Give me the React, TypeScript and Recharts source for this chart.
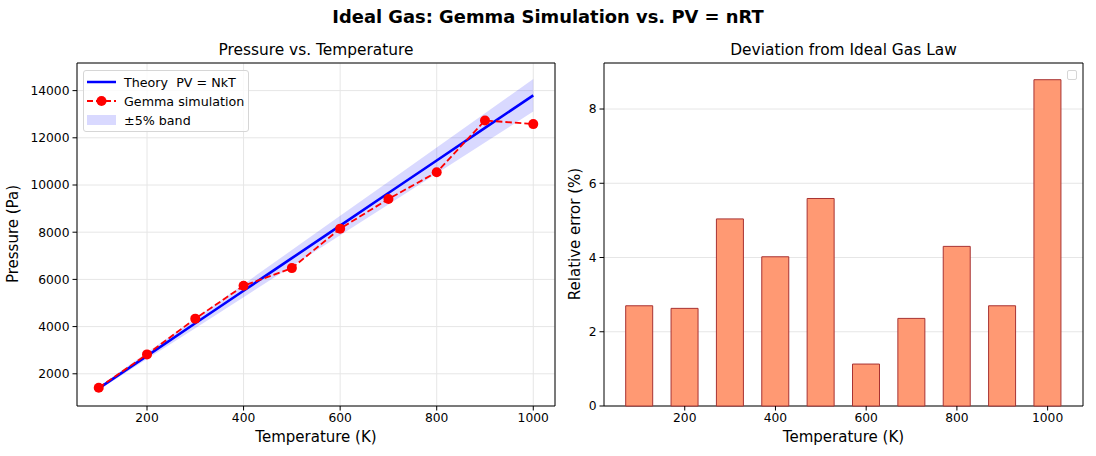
import { ComposedChart, BarChart, Bar, Line, Area, XAxis, YAxis, CartesianGrid, ReferenceArea } from "recharts";

const temps = [100, 200, 300, 400, 500, 600, 700, 800, 900, 1000];
const theoryP = [1380, 2760, 4140, 5520, 6900, 8280, 9660, 11040, 12420, 13800];
const gemmaP = [1410, 2822, 4337, 5727, 6478, 8150, 9408, 10542, 12736, 12580];
const relErr = [2.7, 2.63, 5.04, 4.02, 5.59, 1.13, 2.36, 4.3, 2.7, 8.79];

const xTicks = [200, 400, 600, 800, 1000];
const pTicks = [2000, 4000, 6000, 8000, 10000, 12000, 14000];
const errTicks = [0, 2, 4, 6, 8];

const FONT = "'DejaVu Sans', sans-serif";
const tickStyle = { fontSize: 12.3, fill: "#000", fontFamily: FONT };

const pressureData = temps.map((t, i) => ({
  T: t,
  theory: theoryP[i],
  gemma: gemmaP[i],
  band: [theoryP[i] * 0.95, theoryP[i] * 1.05],
}));

const errData = temps.map((t, i) => ({ T: t, err: relErr[i] }));

const text = (s: React.CSSProperties): React.CSSProperties => ({
  position: "absolute",
  fontFamily: FONT,
  color: "#000",
  whiteSpace: "pre",
  lineHeight: 1,
  ...s,
});

function LeftLegend() {
  const row = (top: number, icon: React.ReactNode, label: string) => (
    <div style={{ position: "absolute", left: 3, top, height: 16, display: "flex", alignItems: "center" }}>
      <svg width={30} height={16}>{icon}</svg>
      <span style={{ marginLeft: 7, fontSize: 12.7, fontFamily: FONT, whiteSpace: "pre" }}>{label}</span>
    </div>
  );
  return (
    <div
      style={{
        position: "absolute",
        left: 83,
        top: 70,
        width: 166,
        height: 62,
        boxSizing: "border-box",
        border: "1px solid #d6d6d6",
        borderRadius: 3,
        background: "rgba(255,255,255,0.8)",
      }}
    >
      {row(3, <line x1={0} y1={8} x2={29} y2={8} stroke="#0000ff" strokeWidth={2.5} />, "Theory  PV = NkT")}
      {row(22, <g><line x1={0} y1={8} x2={29} y2={8} stroke="red" strokeWidth={1.8} strokeDasharray="6 3" /><circle cx={14.5} cy={8} r={5} fill="red" /></g>, "Gemma simulation")}
      {row(41, <rect x={0} y={3} width={29} height={10} fill="#0000ff" fillOpacity={0.15} />, "±5% band")}
    </div>
  );
}

export default function App() {
  return (
    <div style={{ position: "absolute", left: 0, top: 0, width: 1096, height: 456, background: "#fff" }}>
      <div style={text({ left: 0, width: 1096, top: 8, textAlign: "center", fontSize: 17.9, fontWeight: "bold" })}>
        Ideal Gas: Gemma Simulation vs. PV = nRT
      </div>

      <div style={text({ left: 77, width: 478, top: 43, textAlign: "center", fontSize: 15.4 })}>Pressure vs. Temperature</div>
      <div style={text({ left: 604, width: 479, top: 43, textAlign: "center", fontSize: 15.4 })}>Deviation from Ideal Gas Law</div>

      <div style={text({ left: 77, width: 478, top: 430, textAlign: "center", fontSize: 15 })}>Temperature (K)</div>
      <div style={text({ left: 604, width: 479, top: 430, textAlign: "center", fontSize: 15 })}>Temperature (K)</div>

      <div style={text({ left: 13, top: 234, fontSize: 15, transform: "translate(-50%,-50%) rotate(-90deg)" })}>Pressure (Pa)</div>
      <div style={text({ left: 575, top: 234, fontSize: 15, transform: "translate(-50%,-50%) rotate(-90deg)" })}>Relative error (%)</div>

      <div style={{ position: "absolute", left: 0, top: 0 }}>
        <ComposedChart width={570} height={456} data={pressureData} margin={{ top: 63, right: 15, bottom: 0, left: 0 }}>
          <CartesianGrid stroke="#e6e6e6" strokeWidth={1} />
          <XAxis
            dataKey="T"
            type="number"
            domain={[55, 1045]}
            ticks={xTicks}
            height={50}
            axisLine={false}
            tickSize={4.5}
            tickMargin={3}
            tickLine={{ stroke: "#000" }}
            tick={tickStyle}
            interval={0}
          />
          <YAxis
            type="number"
            domain={[635, 15170]}
            ticks={pTicks}
            width={77}
            axisLine={false}
            tickSize={4.5}
            tickMargin={3}
            tickLine={{ stroke: "#000" }}
            tick={tickStyle}
            interval={0}
          />
          <Area dataKey="band" stroke="none" fill="#0000ff" fillOpacity={0.15} isAnimationActive={false} />
          <Line dataKey="theory" stroke="#0000ff" strokeWidth={2.6} dot={false} isAnimationActive={false} />
          <Line
            dataKey="gemma"
            stroke="red"
            strokeWidth={1.8}
            strokeDasharray="6.5 3"
            dot={{ r: 5, fill: "red", stroke: "red", strokeWidth: 0, strokeDasharray: "none" }}
            isAnimationActive={false}
          />
          <ReferenceArea x1={55} x2={1045} y1={635} y2={15170} fill="none" stroke="#000" strokeWidth={1} ifOverflow="visible" />
        </ComposedChart>
      </div>
      <LeftLegend />

      <div style={{ position: "absolute", left: 560, top: 0 }}>
        <BarChart width={536} height={456} data={errData} margin={{ top: 63, right: 13, bottom: 0, left: 0 }}>
          <CartesianGrid stroke="#e6e6e6" strokeWidth={1} vertical={false} />
          <XAxis
            dataKey="T"
            type="number"
            domain={[22, 1078]}
            ticks={xTicks}
            height={50}
            axisLine={false}
            tickSize={4.5}
            tickMargin={3}
            tickLine={{ stroke: "#000" }}
            tick={tickStyle}
            interval={0}
          />
          <YAxis
            type="number"
            domain={[0, 9.24]}
            ticks={errTicks}
            width={44}
            axisLine={false}
            tickSize={4.5}
            tickMargin={3}
            tickLine={{ stroke: "#000" }}
            tick={tickStyle}
            interval={0}
          />
          <Bar dataKey="err" barSize={27} fill="#ff9973" stroke="#a83232" strokeWidth={1} isAnimationActive={false} />
          <ReferenceArea x1={22} x2={1078} y1={0} y2={9.24} fill="none" stroke="#000" strokeWidth={1} ifOverflow="visible" />
        </BarChart>
      </div>
      <div
        style={{
          position: "absolute",
          left: 1067,
          top: 70,
          width: 10,
          height: 10,
          boxSizing: "border-box",
          border: "1px solid #d6d6d6",
          borderRadius: 2,
          background: "rgba(255,255,255,0.8)",
        }}
      />
    </div>
  );
}
